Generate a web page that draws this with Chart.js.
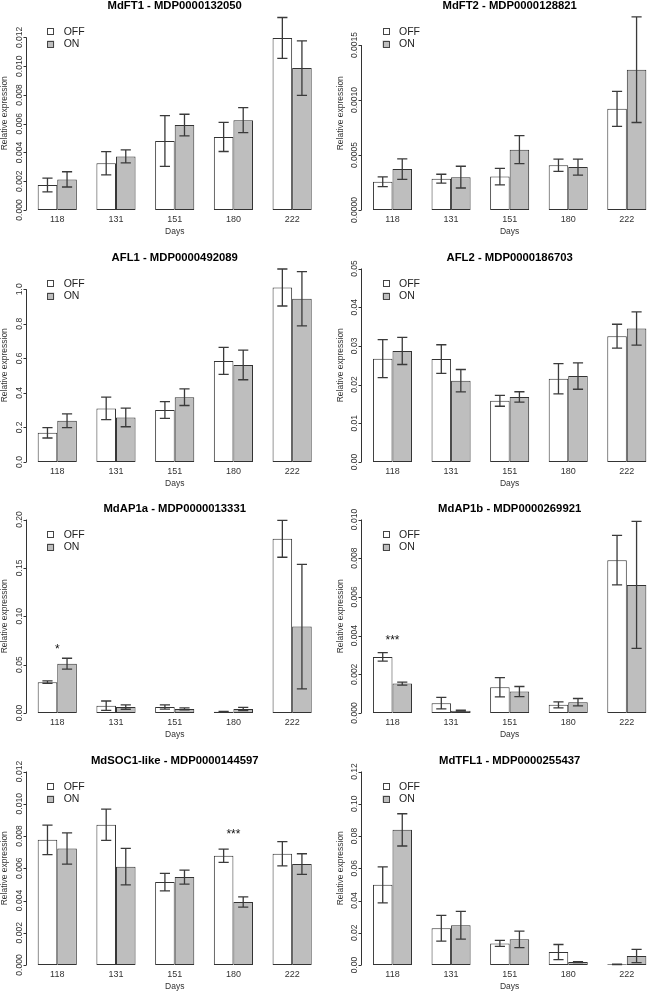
<!DOCTYPE html>
<html>
<head>
<meta charset="utf-8">
<script src="https://cdn.jsdelivr.net/npm/chart.js@4.4.1/dist/chart.umd.min.js"></script>
<style>
html, body { margin: 0; padding: 0; background: #fff; overflow: hidden; width: 648px; height: 992px; }
canvas { position: absolute; }
</style>
</head>
<body>
<script>
var days = ['118', '131', '151', '180', '222'];
var seriesNames = ['OFF', 'ON'];
var geneTitles = [
    'MdFT1 - MDP0000132050', 'MdFT2 - MDP0000128821',
    'AFL1 - MDP0000492089', 'AFL2 - MDP0000186703',
    'MdAP1a - MDP0000013331', 'MdAP1b - MDP0000269921',
    'MdSOC1-like - MDP0000144597', 'MdTFL1 - MDP0000255437'
];

// mean relative expression, one row per gene (same order as geneTitles)
var offMean = [
    [0.00174, 0.00325, 0.0048, 0.00508, 0.01197],
    [0.000257, 0.000285, 0.000304, 0.000407, 0.00092],
    [0.169, 0.31, 0.301, 0.585, 1.01],
    [0.0267, 0.0266, 0.0158, 0.0215, 0.0325],
    [0.0319, 0.0076, 0.0062, 0.0014, 0.180],
    [0.0029, 0.00051, 0.00133, 0.00042, 0.0079],
    [0.00776, 0.0087, 0.00514, 0.00678, 0.0069],
    [0.0497, 0.0228, 0.0134, 0.008, 0.0004]
];
var onMean = [
    [0.00213, 0.00373, 0.00591, 0.00625, 0.00987],
    [0.000372, 0.000299, 0.000549, 0.00039, 0.001276],
    [0.239, 0.258, 0.375, 0.562, 0.945],
    [0.0287, 0.021, 0.0168, 0.0222, 0.0345],
    [0.051, 0.0061, 0.0042, 0.0042, 0.0893],
    [0.00152, 0.00012, 0.00111, 0.00056, 0.00662],
    [0.00723, 0.0061, 0.00545, 0.00391, 0.00626],
    [0.0838, 0.0246, 0.0159, 0.0018, 0.0056]
];
// standard errors
var offErr = [
    [0.00048, 0.00081, 0.00177, 0.00101, 0.00142],
    [0.000044, 0.00004, 0.000075, 0.000055, 0.000159],
    [0.03, 0.065, 0.048, 0.078, 0.107],
    [0.0049, 0.0037, 0.0014, 0.0039, 0.0031],
    [0.0013, 0.0048, 0.0021, 0.0003, 0.019],
    [0.00022, 0.0003, 0.0005, 0.00016, 0.00128],
    [0.00091, 0.00097, 0.00054, 0.00041, 0.00075],
    [0.0112, 0.008, 0.0019, 0.0047, 0.0001]
];
var onErr = [
    [0.00053, 0.00045, 0.00075, 0.00087, 0.0019],
    [0.000093, 0.000099, 0.000128, 0.000072, 0.00048],
    [0.04, 0.054, 0.048, 0.086, 0.157],
    [0.0035, 0.0029, 0.00135, 0.0034, 0.0043],
    [0.0056, 0.0022, 0.001, 0.0017, 0.0644],
    [0.00008, 0.000025, 0.00026, 0.00019, 0.00328],
    [0.00097, 0.00113, 0.00043, 0.00032, 0.00064],
    [0.01, 0.0086, 0.0051, 0.0003, 0.0041]
];

// y axis: upper limit, tick step, decimals of the tick labels
var yLimit = [0.01346, 0.00176, 1.12, 0.05, 0.2, 0.01, 0.012, 0.12];
var yStep = [0.002, 0.0005, 0.2, 0.01, 0.05, 0.002, 0.002, 0.02];
var yDecimals = [3, 4, 1, 2, 2, 3, 3, 2];

// significance marks
var starGene = [4, 5, 6];
var starDay = [0, 0, 3];
var starText = ['*', '***', '***'];
var starHeight = [0.069, 0.0039, 0.0083];

var FONT = '"Liberation Sans", Arial, sans-serif';
var INK = '#333';
var rowBase = [210.2, 461.7, 713.2, 964.7];

// R style axis, error bars, stars and legend
var rStyle = {
    id: 'rStyle',
    afterDatasetsDraw: function (chart, args, opts) {
        var ctx = chart.ctx, ys = chart.scales.y, xs = chart.scales.x, area = chart.chartArea;
        var ticks = ys.ticks;
        var ax = Math.round(area.left - 1.2) - 0.5;
        ctx.save();
        ctx.strokeStyle = INK;
        ctx.lineWidth = 1;
        ctx.beginPath();
        ctx.moveTo(ax, ys.getPixelForValue(ticks[0].value));
        ctx.lineTo(ax, ys.getPixelForValue(ticks[ticks.length - 1].value));
        ticks.forEach(function (t) {
            var y = Math.round(ys.getPixelForValue(t.value)) + 0.5;
            ctx.moveTo(ax - 3, y);
            ctx.lineTo(ax, y);
        });
        ctx.stroke();
        ctx.fillStyle = INK;
        ctx.font = '8.5px ' + FONT;
        ctx.textAlign = 'center';
        ctx.textBaseline = 'middle';
        ticks.forEach(function (t) {
            ctx.save();
            ctx.translate(ax - 7, ys.getPixelForValue(t.value));
            ctx.rotate(-Math.PI / 2);
            ctx.fillText(t.value.toFixed(opts.decimals), 0, 0);
            ctx.restore();
        });

        // error bars
        ctx.strokeStyle = '#3a3a3a';
        ctx.lineWidth = 1.3;
        chart.data.datasets.forEach(function (ds, d) {
            chart.getDatasetMeta(d).data.forEach(function (bar, j) {
                var hi = ys.getPixelForValue(ds.data[j] + ds.err[j]);
                var lo = ys.getPixelForValue(Math.max(ds.data[j] - ds.err[j], 0));
                var cw = bar.width * 0.26;
                ctx.beginPath();
                ctx.moveTo(bar.x, hi); ctx.lineTo(bar.x, lo);
                ctx.moveTo(bar.x - cw, hi); ctx.lineTo(bar.x + cw, hi);
                ctx.moveTo(bar.x - cw, lo); ctx.lineTo(bar.x + cw, lo);
                ctx.stroke();
            });
        });

        // stars
        ctx.fillStyle = '#111';
        ctx.font = '12px ' + FONT;
        ctx.textBaseline = 'alphabetic';
        opts.stars.forEach(function (s) {
            ctx.fillText(s.text, xs.getPixelForValue(s.day), ys.getPixelForValue(s.value) + 6.8);
        });

        // legend
        ctx.font = '10.5px ' + FONT;
        ctx.textAlign = 'left';
        ctx.textBaseline = 'middle';
        ctx.lineWidth = 1;
        chart.data.datasets.forEach(function (ds, d) {
            var cx = area.left + 22.8;
            var cy = area.top + 15 + d * 12.5;
            ctx.fillStyle = ds.backgroundColor;
            ctx.fillRect(cx - 3.5, cy - 3.5, 7, 7);
            ctx.strokeStyle = '#444';
            ctx.strokeRect(Math.round(cx - 3.5) + 0.5, Math.round(cy - 3.5) + 0.5, 6, 6);
            ctx.fillStyle = '#222';
            ctx.fillText(ds.label, cx + 13, cy + 0.5);
        });
        ctx.restore();
    }
};

geneTitles.forEach(function (title, g) {
    var col = g % 2, row = Math.floor(g / 2);
    var canvas = document.createElement('canvas');
    canvas.width = col === 0 ? 324 : 336;
    canvas.height = 242;
    canvas.style.left = (col * 324) + 'px';
    canvas.style.top = (rowBase[row] - 212) + 'px';
    document.body.appendChild(canvas);

    var stars = [];
    starGene.forEach(function (sg, k) {
        if (sg === g) stars.push({ day: starDay[k], text: starText[k], value: starHeight[k] });
    });

    new Chart(canvas.getContext('2d'), {
        type: 'bar',
        data: {
            labels: days,
            datasets: [{
                label: seriesNames[0],
                data: offMean[g],
                err: offErr[g],
                backgroundColor: '#ffffff'
            }, {
                label: seriesNames[1],
                data: onMean[g],
                err: onErr[g],
                backgroundColor: '#bebebe'
            }]
        },
        options: {
            responsive: false,
            animation: false,
            layout: { padding: { left: 0, right: col === 0 ? 2.5 : 3.9, top: 0, bottom: 0 } },
            datasets: {
                bar: {
                    borderColor: INK,
                    borderWidth: 1,
                    borderSkipped: false,
                    barPercentage: 1,
                    categoryPercentage: 2 / 3
                }
            },
            scales: {
                x: {
                    grid: { display: false, drawTicks: false },
                    border: { display: false },
                    ticks: { color: INK, font: { family: FONT, size: 9 }, padding: 3.9, maxRotation: 0, autoSkip: false },
                    title: { display: true, text: 'Days', color: INK, font: { family: FONT, size: 8.5 }, padding: { top: 0, bottom: 3.2 } },
                    afterFit: function (s) { s.height = 30; }
                },
                y: {
                    min: 0,
                    max: yLimit[g],
                    grid: { display: false },
                    border: { display: false },
                    ticks: { display: false, stepSize: yStep[g], includeBounds: false },
                    title: { display: true, text: 'Relative expression', color: INK, font: { family: FONT, size: 8.5, lineHeight: 1 }, padding: { top: col === 0 ? 0.5 : 12.2, bottom: 0 } },
                    afterFit: function (s) { s.width = col === 0 ? 27.9 : 39.2; }
                }
            },
            plugins: {
                legend: { display: false },
                tooltip: { enabled: false },
                title: {
                    display: true,
                    text: title,
                    fullSize: false,
                    color: '#000',
                    font: { family: FONT, size: 11.3, weight: 'bold', lineHeight: 1.2 },
                    padding: { top: 1, bottom: 3.94 }
                },
                rStyle: { decimals: yDecimals[g], stars: stars }
            }
        },
        plugins: [rStyle]
    });
});
</script>
</body>
</html>
